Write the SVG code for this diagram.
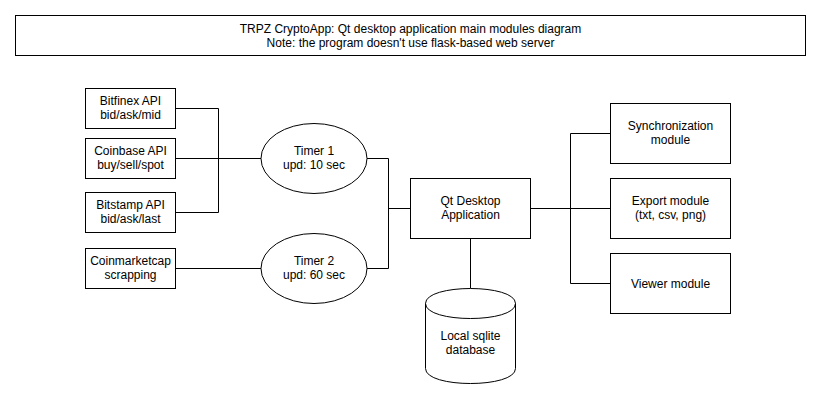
<svg xmlns="http://www.w3.org/2000/svg" width="821" height="400" viewBox="0 0 821 400">
<style>
.s{fill:#fff;stroke:#000;stroke-width:1}
.t{font-family:"Liberation Sans",Arial,sans-serif;font-size:12px;fill:#000;text-anchor:middle}
.c{fill:none;stroke:#000;stroke-width:1}
</style>
<rect width="821" height="400" fill="#fff"/>
<g id="title">
<rect class="s" x="15.5" y="15.5" width="790" height="40"/>
<text class="t" x="410.5" y="33">TRPZ CryptoApp: Qt desktop application main modules diagram</text>
<text class="t" x="410.5" y="47">Note: the program doesn't use flask-based web server</text>
</g>
<g id="connectors">
<path class="c" d="M175.5 108.5H218.5V212.5H175.5"/>
<path class="c" d="M175.5 158.5H261"/>
<path class="c" d="M175.5 268.5H261"/>
<path class="c" d="M367 158.5H388.5V268.5H367"/>
<path class="c" d="M388.5 208.5H410.5"/>
<path class="c" d="M530.5 208.5H610.5"/>
<path class="c" d="M610.5 133.5H570.5V283.5H610.5"/>
<path class="c" d="M470.5 238.5V288.5"/>
</g>
<g id="bitfinex">
<rect class="s" x="85.5" y="88.5" width="90" height="40"/>
<text class="t" x="130.5" y="105">Bitfinex API</text>
<text class="t" x="130.5" y="119">bid/ask/mid</text>
</g>
<g id="coinbase">
<rect class="s" x="85.5" y="138.5" width="90" height="40"/>
<text class="t" x="130.5" y="155">Coinbase API</text>
<text class="t" x="130.5" y="169">buy/sell/spot</text>
</g>
<g id="bitstamp">
<rect class="s" x="85.5" y="192.5" width="90" height="40"/>
<text class="t" x="130.5" y="209">Bitstamp API</text>
<text class="t" x="130.5" y="223">bid/ask/last</text>
</g>
<g id="coinmarketcap">
<rect class="s" x="85.5" y="248.5" width="90" height="40"/>
<text class="t" x="130.5" y="265">Coinmarketcap</text>
<text class="t" x="130.5" y="279">scrapping</text>
</g>
<g id="timer1">
<ellipse class="s" cx="314" cy="158.5" rx="53" ry="35"/>
<text class="t" x="314" y="155">Timer 1</text>
<text class="t" x="314" y="169">upd: 10 sec</text>
</g>
<g id="timer2">
<ellipse class="s" cx="314" cy="268.5" rx="53" ry="35"/>
<text class="t" x="314" y="265">Timer 2</text>
<text class="t" x="314" y="279">upd: 60 sec</text>
</g>
<g id="qt">
<rect class="s" x="410.5" y="178.5" width="120" height="60"/>
<text class="t" x="470.5" y="205">Qt Desktop</text>
<text class="t" x="470.5" y="219">Application</text>
</g>
<g id="sqlite">
<path class="s" d="M425.5 303.5C425.5 283.5 515.5 283.5 515.5 303.5V368.5C515.5 388.5 425.5 388.5 425.5 368.5Z"/>
<path class="c" d="M425.5 303.5C425.5 323.5 515.5 323.5 515.5 303.5"/>
<text class="t" x="470.5" y="340">Local sqlite</text>
<text class="t" x="470.5" y="354">database</text>
</g>
<g id="sync">
<rect class="s" x="610.5" y="103.5" width="120" height="60"/>
<text class="t" x="670.5" y="130">Synchronization</text>
<text class="t" x="670.5" y="144">module</text>
</g>
<g id="export">
<rect class="s" x="610.5" y="178.5" width="120" height="60"/>
<text class="t" x="670.5" y="205">Export module</text>
<text class="t" x="670.5" y="219">(txt, csv, png)</text>
</g>
<g id="viewer">
<rect class="s" x="610.5" y="253.5" width="120" height="60"/>
<text class="t" x="670.5" y="288">Viewer module</text>
</g>
</svg>
